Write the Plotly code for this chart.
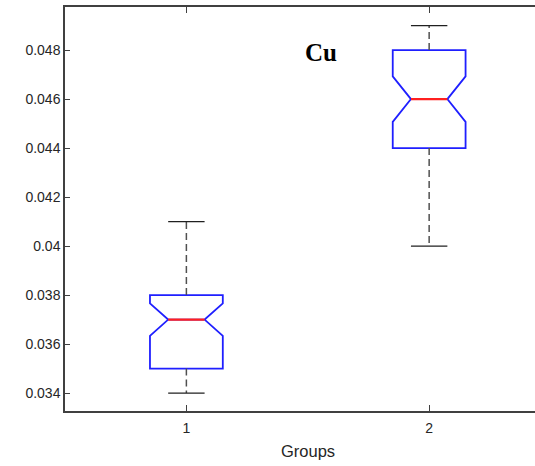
import plotly.graph_objects as go

# ---- data ----
groups = [1, 2]
q1 = [0.035, 0.044]
median = [0.037, 0.046]
q3 = [0.038, 0.048]
whisker_low = [0.034, 0.040]
whisker_high = [0.041, 0.049]
notch_span = [0.00066, 0.00093]
y_ticks = [0.034, 0.036, 0.038, 0.04, 0.042, 0.044, 0.046, 0.048]
y_tick_labels = ["0.034", "0.036", "0.038", "0.04", "0.042", "0.044", "0.046", "0.048"]
title_text = "Cu"
x_label = "Groups"

# ---- style ----
box_width = 0.3
notch_frac = 0.25
axis_color = "#404040"
text_color = "#262626"

fig = go.Figure()

# notched boxes (whiskers drawn separately)
fig.add_trace(go.Box(
    x=groups, q1=q1, median=median, q3=q3,
    lowerfence=q1, upperfence=q3,
    notched=True, notchspan=notch_span, notchwidth=notch_frac,
    width=box_width, whiskerwidth=0,
    line=dict(color="#1f1fff", width=1.8),
    fillcolor="rgba(0,0,0,0)",
    boxpoints=False, hoverinfo="skip", showlegend=False,
))

# dashed whiskers
wx, wy = [], []
for g, a, b, c, d in zip(groups, q1, q3, whisker_low, whisker_high):
    wx += [g, g, None, g, g, None]
    wy += [b, d, None, a, c, None]
fig.add_trace(go.Scatter(x=wx, y=wy, mode="lines",
                         line=dict(color="#505050", width=1.5, dash="7px,4px"),
                         hoverinfo="skip", showlegend=False))

# whisker caps
cap_half = box_width / 4
cx, cy = [], []
for g, c, d in zip(groups, whisker_low, whisker_high):
    cx += [g - cap_half, g + cap_half, None, g - cap_half, g + cap_half, None]
    cy += [c, c, None, d, d, None]
fig.add_trace(go.Scatter(x=cx, y=cy, mode="lines",
                         line=dict(color="#202020", width=1.4),
                         hoverinfo="skip", showlegend=False))

# red medians
med_half = box_width / 2 * (1 - 2 * notch_frac)
mx, my = [], []
for g, m in zip(groups, median):
    mx += [g - med_half, g + med_half, None]
    my += [m, m, None]
fig.add_trace(go.Scatter(x=mx, y=my, mode="lines",
                         line=dict(color="#FF2020", width=2.2),
                         hoverinfo="skip", showlegend=False))

fig.add_annotation(x=1.555, y=0.0479, xref="x", yref="y", text="<b>" + title_text + "</b>",
                   showarrow=False, font=dict(family="Liberation Serif", size=25, color="black"))
fig.add_annotation(x=1.5, y=-0.1, xref="x", yref="paper", text=x_label,
                   showarrow=False, yanchor="middle",
                   font=dict(family="Liberation Sans", size=16.5, color=text_color))

fig.update_layout(
    width=535, height=466,
    margin=dict(l=65, r=0, t=7, b=55),
    paper_bgcolor="white", plot_bgcolor="white",
    boxmode="overlay",
    font=dict(family="Liberation Sans", size=14, color=text_color),
    xaxis=dict(range=[0.5, 2.436], tickvals=groups, ticktext=[str(g) for g in groups],
               ticks="inside", ticklen=6, tickcolor=axis_color, tickwidth=1.3,
               ticklabelstandoff=3,
               showline=True, linecolor=axis_color, linewidth=1.5, mirror="ticks",
               showgrid=False, zeroline=False),
    yaxis=dict(range=[0.03327, 0.04976], tickvals=y_ticks, ticktext=y_tick_labels,
               ticks="inside", ticklen=5, tickcolor=axis_color, tickwidth=1.3,
               showline=True, linecolor=axis_color, linewidth=1.5,
               showgrid=False, zeroline=False),
)

fig.write_html("out.html", config={"displayModeBar": False},
               post_script="document.body.style.margin='0';")
